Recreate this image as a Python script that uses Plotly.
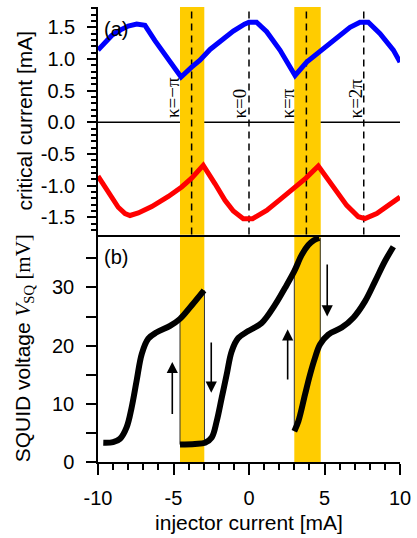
import plotly.graph_objects as go

# ---------------- data ----------------
# panel (a): critical currents [mA] vs injector current [mA]
ic_pos_x = [-10, -9.09, -8.5, -8.0, -7.44, -6.89, -6.23, -5.34, -4.5, -3.8, -3.25, -2.58, -1.92, -1.04,
            -0.3, 0.0, 0.5, 1.17, 2.05, 3.05, 3.82, 4.6, 5.58, 6.69, 7.35, 7.9, 8.68, 9.56, 10]
ic_pos_y = [1.14, 1.37, 1.46, 1.52, 1.55, 1.53, 1.29, 0.98, 0.715, 0.87, 0.98, 1.15, 1.28, 1.44,
            1.55, 1.58, 1.58, 1.43, 1.14, 0.74, 0.95, 1.10, 1.29, 1.50, 1.58, 1.58, 1.40, 1.14, 0.95]
ic_neg_x = [-10, -9.32, -8.66, -8.21, -7.88, -7.33, -6.44, -5.34, -4.46, -3.8, -3.03, -2.25, -1.59,
            -1.04, -0.38, 0.24, 1.17, 2.05, 2.93, 3.77, 4.59, 5.36, 6.47, 7.24, 7.68, 8.46, 9.34, 10]
ic_neg_y = [-0.85, -1.10, -1.34, -1.44, -1.47, -1.43, -1.33, -1.17, -1.02, -0.88, -0.68, -0.97, -1.23,
            -1.40, -1.52, -1.52, -1.39, -1.22, -1.05, -0.88, -0.69, -0.94, -1.31, -1.49, -1.52, -1.44, -1.28, -1.18]

kappa_x = [-3.8, 0.0, 3.8, 7.6]
kappa_labels = ["κ=−π", "κ=0", "κ=π", "κ=2π"]
kappa_label_x = [-5.03, -0.66, 2.52, 7.02]

band_x0 = [-4.57, 3.0]
band_x1 = [-2.96, 4.75]

# panel (b): SQUID voltage [mV] branches
vA_x = [-9.65, -9.0, -8.54, -8.1, -7.77, -7.44, -7.1, -6.67, -6.11, -5.23, -4.57, -3.8, -2.98]
vA_y = [3.3, 3.4, 4.0, 6.0, 9.4, 14.0, 18.6, 21.2, 22.3, 23.4, 24.6, 26.9, 29.5]
vB_x = [-4.57, -3.58, -2.91, -2.47, -2.14, -1.81, -1.48, -1.15, -0.71, -0.05, 0.84, 1.72, 2.38, 3.0,
        3.49, 3.93, 4.3, 4.65]
vB_y = [3.0, 3.1, 3.3, 4.2, 7.0, 11.0, 15.0, 19.0, 21.3, 22.5, 23.9, 27.0, 29.9, 32.8, 35.6, 37.3, 38.1, 38.5]
vC_x = [3.0, 3.27, 3.71, 4.04, 4.37, 4.7, 5.25, 6.14, 6.91, 7.68, 8.34, 9.0, 9.56]
vC_y = [5.3, 7.0, 11.6, 15.0, 17.9, 20.2, 21.9, 23.1, 24.8, 27.6, 31.0, 34.5, 37.0]

jump_x = [-4.57, -2.95, 3.0, 4.72]
jump_from = [3.0, 29.5, 5.3, 38.5]
jump_to = [24.6, 3.3, 32.8, 20.6]

arrow_x = [-5.08, -2.5, 2.56, 5.18]
arrow_from = [8.0, 20.8, 13.9, 34.2]
arrow_to = [17.2, 11.9, 22.8, 25.0]

# ---------------- figure ----------------
SANS = "Liberation Sans, Arial, sans-serif"
SERIF = "Liberation Serif, Times New Roman, serif"
GOLD = "#FFCC00"

fig = go.Figure()

fig.add_trace(go.Scatter(x=ic_pos_x, y=ic_pos_y, mode="lines", line=dict(color="#0000FF", width=5),
                         xaxis="x", yaxis="y", showlegend=False))
fig.add_trace(go.Scatter(x=ic_neg_x, y=ic_neg_y, mode="lines", line=dict(color="#FF0000", width=5),
                         xaxis="x", yaxis="y", showlegend=False))

for i in range(len(jump_x)):
    fig.add_trace(go.Scatter(x=[jump_x[i], jump_x[i]], y=[jump_from[i], jump_to[i]], mode="lines",
                             line=dict(color="#333333", width=1), xaxis="x2", yaxis="y2", showlegend=False))
for bx, by in [(vA_x, vA_y), (vB_x, vB_y), (vC_x, vC_y)]:
    fig.add_trace(go.Scatter(x=bx, y=by, mode="lines", line=dict(color="black", width=6, shape="spline"),
                             xaxis="x2", yaxis="y2", showlegend=False))

shapes = []
# zero line in (a), drawn under the bands
shapes.append(dict(type="line", xref="x domain", yref="y", x0=0, x1=1, y0=0, y1=0,
                   line=dict(color="black", width=1.5), layer="below"))
for x0, x1 in zip(band_x0, band_x1):
    shapes.append(dict(type="rect", xref="x", yref="y domain", x0=x0, x1=x1, y0=0, y1=1,
                       fillcolor=GOLD, line=dict(width=0), layer="below"))
    shapes.append(dict(type="rect", xref="x2", yref="y2 domain", x0=x0, x1=x1, y0=0, y1=1,
                       fillcolor=GOLD, line=dict(width=0), layer="below"))
for kx in kappa_x:
    shapes.append(dict(type="line", xref="x", yref="y domain", x0=kx, x1=kx, y0=0, y1=1,
                       line=dict(color="black", width=1.5, dash="7px,5px"), layer="below"))

annotations = []
for lx, lt in zip(kappa_label_x, kappa_labels):
    annotations.append(dict(x=lx, y=0.03, xref="x", yref="y", text=lt, textangle=-90, showarrow=False,
                            xanchor="center", yanchor="bottom", font=dict(family=SERIF, size=19, color="black")))
for ax_, a0, a1 in zip(arrow_x, arrow_from, arrow_to):
    annotations.append(dict(x=ax_, y=a1, ax=ax_, ay=a0, xref="x2", yref="y2", axref="x2", ayref="y2",
                            text="", showarrow=True, arrowhead=2, arrowsize=1.4, arrowwidth=1.6,
                            arrowcolor="black"))
annotations.append(dict(x=0.012, y=0.96, xref="x domain", yref="y domain", text="(a)", showarrow=False,
                        xanchor="left", yanchor="top", font=dict(family=SANS, size=20, color="black")))
annotations.append(dict(x=0.012, y=0.96, xref="x2 domain", yref="y2 domain", text="(b)", showarrow=False,
                        xanchor="left", yanchor="top", font=dict(family=SANS, size=20, color="black")))

ax_common = dict(showgrid=False, zeroline=False, showline=True, linecolor="black", linewidth=1.5,
                 tickcolor="black", tickwidth=1.5)

top_ticks = [-1.5, -1.0, -0.5, 0.0, 0.5, 1.0, 1.5]
top_ticktext = ["-1.5", "-1.0", "-0.5", "0.0", "0.5", "1.0", "1.5"]
bot_ticks = [0, 10, 20, 30]
bot_ticktext = ["0", "10", "20", "30"]
x_ticks = [-10, -5, 0, 5, 10]
x_ticktext = ["-10", "-5", "0", "5", "10"]

YR_TOP = [-1.77, 1.82]
YR_BOT = [0, 39.1]

fig.update_layout(
    width=417, height=538,
    margin=dict(l=98, r=17, t=7, b=76),
    paper_bgcolor="white", plot_bgcolor="white",
    shapes=shapes, annotations=annotations,
    font=dict(family=SANS, size=20, color="black"),
    xaxis=dict(**ax_common, domain=[0, 1], anchor="y", range=[-10, 10], ticks="", showticklabels=False),
    yaxis=dict(**ax_common, domain=[0.5, 1], anchor="x", range=YR_TOP, tickmode="array",
               tickvals=top_ticks, ticktext=top_ticktext, ticks="outside", ticklen=9,
               minor=dict(dtick=0.1, tick0=0, ticks="outside", ticklen=5, tickcolor="black", tickwidth=1.5),
               tickfont=dict(size=20), ticklabelstandoff=8,
               title=dict(text="critical current [mA]", font=dict(size=21), standoff=2)),
    xaxis3=dict(**ax_common, overlaying="x", anchor="y", side="top", range=[-10, 10], showticklabels=False,
                tickmode="linear", tick0=0, dtick=5, ticks="inside", ticklen=9,
                minor=dict(dtick=1, tick0=0, ticks="inside", ticklen=5, tickcolor="black", tickwidth=1.5)),
    yaxis3=dict(**ax_common, overlaying="y", anchor="x", side="right", range=YR_TOP, showticklabels=False,
                tickmode="linear", tick0=0, dtick=0.5, ticks="inside", ticklen=9,
                minor=dict(dtick=0.1, tick0=0, ticks="inside", ticklen=5, tickcolor="black", tickwidth=1.5)),
    xaxis2=dict(**ax_common, domain=[0, 1], anchor="y2", range=[-10, 10], tickmode="array",
                tickvals=x_ticks, ticktext=x_ticktext, ticks="outside", ticklen=11,
                minor=dict(dtick=1, tick0=0, ticks="outside", ticklen=6, tickcolor="black", tickwidth=1.5),
                tickfont=dict(size=20), ticklabelstandoff=6,
                title=dict(text="injector current [mA]", font=dict(size=21), standoff=8)),
    yaxis2=dict(**ax_common, domain=[0, 0.5], anchor="x2", range=YR_BOT, tickmode="array",
                tickvals=bot_ticks, ticktext=bot_ticktext, ticks="outside", ticklen=10,
                minor=dict(dtick=5, tick0=0, ticks="outside", ticklen=10, tickcolor="black", tickwidth=1.5),
                tickfont=dict(size=20), ticklabelstandoff=8,
                title=dict(text="SQUID voltage <span style=\"font-family:Liberation Serif\"><i>V</i>"
                                "<sub>SQ</sub> [mV]</span>", font=dict(size=21), standoff=16)),
    xaxis4=dict(**ax_common, overlaying="x2", anchor="y2", side="top", range=[-10, 10], showticklabels=False,
                tickmode="linear", tick0=0, dtick=5, ticks="inside", ticklen=10,
                minor=dict(dtick=1, tick0=0, ticks="inside", ticklen=5, tickcolor="black", tickwidth=1.5)),
    yaxis4=dict(**ax_common, overlaying="y2", anchor="x2", side="right", range=YR_BOT, showticklabels=False,
                tickmode="linear", tick0=0, dtick=10, ticks="inside", ticklen=10,
                minor=dict(dtick=5, tick0=0, ticks="inside", ticklen=10, tickcolor="black", tickwidth=1.5)),
)

fig.write_html("out.html")
